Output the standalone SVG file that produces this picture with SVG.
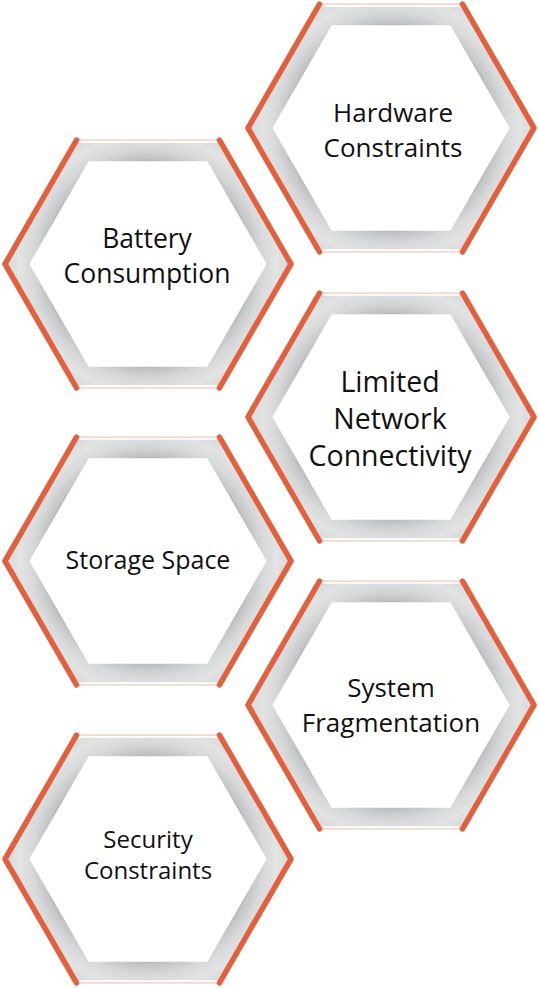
<svg xmlns="http://www.w3.org/2000/svg" xmlns:xlink="http://www.w3.org/1999/xlink" width="539" height="988" viewBox="0 0 539 988">
<style>
.lbl{font-family:"Open Sans","Noto Sans","DejaVu Sans",sans-serif;font-weight:500;fill:#111;text-anchor:middle}
.orange{fill:none;stroke:#e2603e;stroke-width:5.5;stroke-linecap:round;stroke-linejoin:round}
.pink{fill:none;stroke:#f2c9bd;stroke-width:1.2}
</style>
<defs>
<radialGradient id="ringGrad" gradientUnits="userSpaceOnUse" cx="0" cy="0" r="140">
<stop offset="0" stop-color="#a0a1a2"/>
<stop offset="0.71" stop-color="#acadae"/>
<stop offset="0.76" stop-color="#c5c6c7"/>
<stop offset="0.83" stop-color="#d7d8d9"/>
<stop offset="0.92" stop-color="#e2e3e3"/>
<stop offset="1" stop-color="#d8d9da"/>
</radialGradient>
<g id="hex">
<line class="pink" x1="-71.5" y1="-123.8" x2="71.5" y2="-123.8"/>
<line class="pink" x1="-71.5" y1="123.8" x2="71.5" y2="123.8"/>
<path fill="url(#ringGrad)" fill-rule="evenodd" d="M-70,-121.2 L70,-121.2 L140,0 L70,121.2 L-70,121.2 L-140,0 Z M-58.75,-101.8 L-117.5,0 L-58.75,101.8 L58.75,101.8 L117.5,0 L58.75,-101.8 Z"/>
<path fill="#fff" stroke="#fff" stroke-width="2" stroke-linejoin="round" d="M-58.75,-101.8 L58.75,-101.8 L117.5,0 L58.75,101.8 L-58.75,101.8 L-117.5,0 Z"/>
<path class="orange" d="M-71.5,-123.8 L-143,0 L-71.5,123.8"/>
<path class="orange" d="M71.5,-123.8 L143,0 L71.5,123.8"/>
</g>
</defs>
<g id="connectors"></g>
<g id="node-hardware" transform="translate(391,128)">
<use xlink:href="#hex" href="#hex"/>
<text class="lbl" font-size="26" x="2" y="-6">Hardware</text>
<text class="lbl" font-size="26" x="2" y="29">Constraints</text>
</g>
<g id="node-battery" transform="translate(148,264)">
<use xlink:href="#hex" href="#hex"/>
<text class="lbl" font-size="26.5" x="-1" y="-16">Battery</text>
<text class="lbl" font-size="26.5" x="-1" y="19">Consumption</text>
</g>
<g id="node-network" transform="translate(391,417)">
<use xlink:href="#hex" href="#hex"/>
<text class="lbl" font-size="28.5" x="-1" y="-25">Limited</text>
<text class="lbl" font-size="28.5" x="-1" y="12">Network</text>
<text class="lbl" font-size="28.5" x="-1" y="49">Connectivity</text>
</g>
<g id="node-storage" transform="translate(148,561)">
<use xlink:href="#hex" href="#hex"/>
<text class="lbl" font-size="25" x="0" y="8">Storage Space</text>
</g>
<g id="node-fragmentation" transform="translate(391,705)">
<use xlink:href="#hex" href="#hex"/>
<text class="lbl" font-size="26" x="0" y="-8">System</text>
<text class="lbl" font-size="26" x="0" y="27">Fragmentation</text>
</g>
<g id="node-security" transform="translate(148,859)">
<use xlink:href="#hex" href="#hex"/>
<text class="lbl" font-size="24" x="0" y="-11">Security</text>
<text class="lbl" font-size="24" x="0" y="20">Constraints</text>
</g>
</svg>
